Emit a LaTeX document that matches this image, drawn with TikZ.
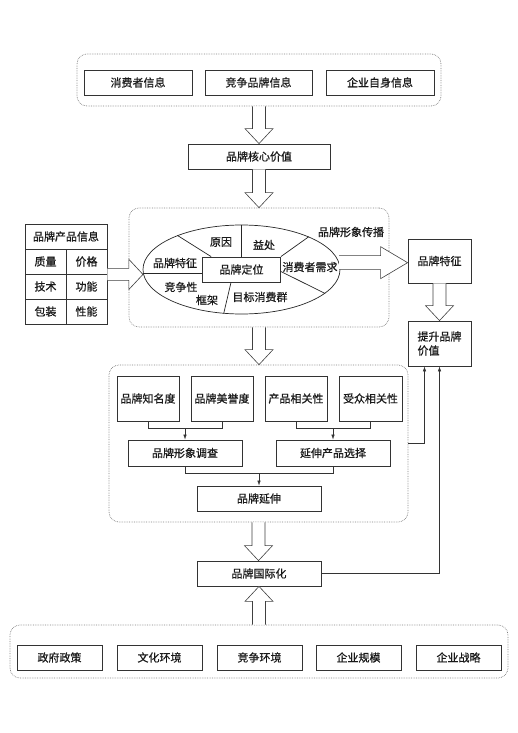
\documentclass[tikz,border=0pt]{standalone}
\usepackage{fontspec}
\setmainfont{Noto Sans CJK SC}[BoldFont=Noto Sans CJK SC, BoldFeatures={FakeBold=0.7}]
\usetikzlibrary{shapes.geometric,arrows.meta,calc}

% hollow block arrows: from, tip, head length (signed), head half width
\newcommand{\fatv}[4]{%
  \draw[fat] let \p1=(#1), \p2=(#2) in
    ({\x1-6.5pt},\y1) -- ({\x1-6.5pt},{\y2+(#3)}) -- ({\x1-#4},{\y2+(#3)}) -- (\x1,\y2)
    -- ({\x1+#4},{\y2+(#3)}) -- ({\x1+6.5pt},{\y2+(#3)}) -- ({\x1+6.5pt},\y1);}
\newcommand{\fath}[5]{%
  \draw[fat] let \p1=(#1), \p2=(#2) in
    (\x1,{\y1+#5}) -- ({\x2+(#3)},{\y1+#5}) -- ({\x2+(#3)},{\y1+#4}) -- (\x2,\y1)
    -- ({\x2+(#3)},{\y1-#4}) -- ({\x2+(#3)},{\y1-#5}) -- (\x1,{\y1-#5});}

\begin{document}
\begin{tikzpicture}[
    x=1pt, y=-1pt,
    font=\fontsize{11pt}{14pt}\selectfont\bfseries, text=black!90,
    box/.style={draw=black!80, line width=0.8pt, minimum height=25pt, inner sep=2pt},
    cell/.style={box, minimum width=41pt},
    group/.style={draw=gray, densely dotted, line width=0.7pt, rounded corners=10pt},
    part/.style={draw=black!85, line width=0.7pt},
    fat/.style={draw=black!75, line width=0.6pt, fill=white},
    flow/.style={-{Latex[length=5pt,width=3.5pt]}, draw=black!80, line width=0.6pt}
]
\useasboundingbox (0,0) rectangle (518,733);

% Groups
\node[group, minimum width=364pt, minimum height=52pt] (g1) at (259,80) {};
\node[group, minimum width=260pt, minimum height=119pt] (g2) at (259,267.5) {};
\node[group, minimum width=299pt, minimum height=157pt] (g3) at (258.5,443.5) {};
\node[group, minimum width=498pt, minimum height=53pt] (g5) at (259,651.5) {};

% Information sources
\node[box, minimum width=108pt] (i1) at (138,82.5) {消费者信息};
\node[box, minimum width=107pt] (i2) at (258.5,82.5) {竞争品牌信息};
\node[box, minimum width=108pt] (i3) at (380,82.5) {企业自身信息};
\node[box, minimum width=142pt] (core) at (259,156.5) {品牌核心价值};

% Positioning ellipse
\node[ellipse, part, minimum width=197pt, minimum height=89pt, inner sep=0pt] (ell) at (241.5,269.5) {};
\node[box, minimum width=78pt] (pos) at (241.5,269.5) {品牌定位};
\draw[part] (ell.152) -- ([xshift=9pt]pos.north west);
\draw[part] (ell.90) -- (pos.north);
\draw[part] (ell.26) -- (pos.north east);
\draw[part] ([yshift=-2pt]pos.east) -- (ell.-16);
\draw[part] ([xshift=-10.5pt]pos.south) -- (ell.248);
\draw[part] (ell.182) -- (pos.west |- ell.182);
\node at (221,242) {原因};
\node at (264,245) {益处};
\node at (175,263) {品牌特征};
\node at (310,267) {消费者需求};
\node at (181,287) {竞争性};
\node at (207,300) {框架};
\node at (260,297) {目标消费群};
\node at (351,232) {品牌形象传播};

% Product information table
\node[box, minimum width=82pt] (c0) at (66,236.5) {品牌产品信息};
\node[cell] (c11) at (45.5,261.5) {质量};
\node[cell] (c12) at (86.5,261.5) {价格};
\node[cell] (c21) at (45.5,286.5) {技术};
\node[cell] (c22) at (86.5,286.5) {功能};
\node[cell] (c31) at (45.5,311.5) {包装};
\node[cell] (c32) at (86.5,311.5) {性能};

% Right column
\node[box, minimum width=63pt, minimum height=44pt] (feat) at (439.5,261) {品牌特征};
\node[box, minimum width=63pt, minimum height=45pt, align=left] (value) at (439.5,343.5) {提升品牌\\价值};

% Brand extension
\node[box, minimum width=62pt, minimum height=45pt] (k1) at (148,398.5) {品牌知名度};
\node[box, minimum width=62pt, minimum height=45pt] (k2) at (222,398.5) {品牌美誉度};
\node[box, minimum width=62pt, minimum height=45pt] (k3) at (296,398.5) {产品相关性};
\node[box, minimum width=63pt, minimum height=45pt] (k4) at (370.5,398.5) {受众相关性};
\node[box, minimum width=114pt, minimum height=26pt] (survey) at (185,453) {品牌形象调查};
\node[box, minimum width=114pt, minimum height=26pt] (select) at (333,453) {延伸产品选择};
\node[box, minimum width=124pt] (ext) at (259,498.5) {品牌延伸};
\node[box, minimum width=124pt] (intl) at (259,573.5) {品牌国际化};

% Environment
\node[box, minimum width=85pt] (e1) at (59.5,657.5) {政府政策};
\node[box, minimum width=85pt] (e2) at (159.5,657.5) {文化环境};
\node[box, minimum width=85pt] (e3) at (259.5,657.5) {竞争环境};
\node[box, minimum width=85pt] (e4) at (358.5,657.5) {企业规模};
\node[box, minimum width=85pt] (e5) at (458.5,657.5) {企业战略};

% Block arrows
\fatv{g1.south}{core.north}{15pt}{14pt}
\fatv{core.south}{g2.north}{15pt}{14pt}
\fatv{g2.south}{g3.north}{15pt}{14pt}
\fatv{g3.south}{intl.north}{15pt}{14pt}
\fatv{g5.north}{intl.south}{-15pt}{14pt}
\fatv{feat.south}{value.north}{15pt}{14pt}
\fath{c12.south east}{ell.182}{-14pt}{15pt}{6pt}
\fath{ell.4}{feat.west}{-27pt}{16pt}{7pt}

% Thin connectors
\draw[flow, -] (k1.south) -- ++(0,7) -| (k2.south);
\draw[flow] (k1.south) ++(0,7) -| (survey.north);
\draw[flow, -] (k3.south) -- ++(0,7) -| (k4.south);
\draw[flow] (k3.south) ++(0,7) -| (select.north);
\draw[flow, -] (survey.south) -- ++(0,7) -| (select.south);
\draw[flow] (survey.south) ++(0,7) -| (ext.north);
\draw[flow] (intl.east) -| (value.south);
\draw[flow] (g3.east) -| ([xshift=-15pt]value.south);
\end{tikzpicture}
\end{document}
